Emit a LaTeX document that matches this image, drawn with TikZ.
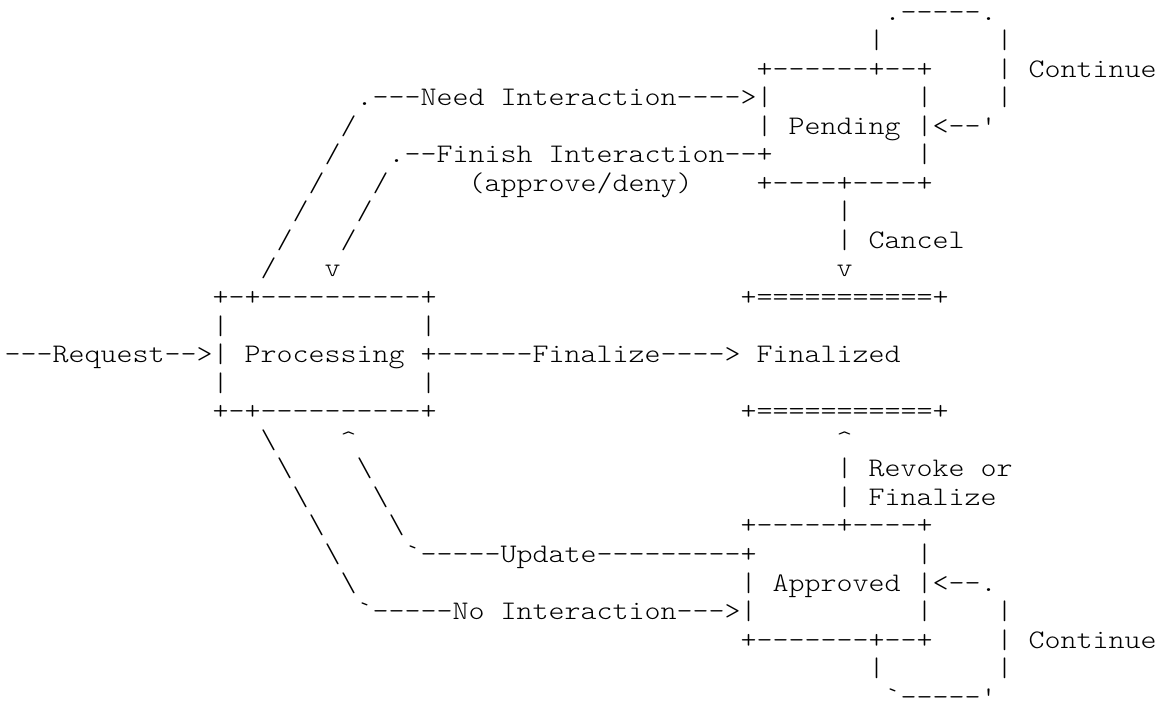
\documentclass[tikz,border=0pt]{standalone}
\usepackage{fontspec}
\newfontfamily\asciifont[FakeStretch=1.1372]{Latin Modern Mono Light}
\tikzset{
  ascii/.style={anchor=base west, inner sep=0pt, outer sep=0pt, text=black,
    font={\asciifont\fontsize{26.8pt}{29pt}\selectfont}}
}
\newcommand\rowtext[4]{\node[ascii] (#1) at ({4.6pt+#2*16.0pt},{-20pt-#3*28.55pt}) {#4};}
\newcommand\bs{\textbackslash}
\begin{document}
\begin{tikzpicture}
\useasboundingbox (0,0) rectangle (1161pt,-715pt);
% row 0-2: Pending self loop
\rowtext{loopTop}{55}{0}{.-----.}
\rowtext{loopL1}{54}{1}{|}
\rowtext{loopR1}{62}{1}{|}
\rowtext{pendTop}{47}{2}{+------+--+}
\rowtext{loopR2}{62}{2}{|}
\rowtext{contTop}{64}{2}{Continue}
% row 3
\rowtext{needInt}{22}{3}{.---Need Interaction---->|}
\rowtext{pendR3}{57}{3}{|}
\rowtext{loopR3}{62}{3}{|}
% row 4
\rowtext{sa4}{21}{4}{/}
\rowtext{pendL4}{47}{4}{|}
\rowtext{pending}{49}{4}{Pending}
\rowtext{pendR4}{57}{4}{|<--'}
% row 5
\rowtext{sa5}{20}{5}{/}
\rowtext{finInt}{24}{5}{.--Finish Interaction--+}
\rowtext{pendR5}{57}{5}{|}
% row 6
\rowtext{sa6}{19}{6}{/}
\rowtext{sb6}{23}{6}{/}
\rowtext{apprDeny}{29}{6}{(approve/deny)}
\rowtext{pendBot}{47}{6}{+----+----+}
% row 7
\rowtext{sa7}{18}{7}{/}
\rowtext{sb7}{22}{7}{/}
\rowtext{canc7}{52}{7}{|}
% row 8
\rowtext{sa8}{17}{8}{/}
\rowtext{sb8}{21}{8}{/}
\rowtext{canc8}{52}{8}{|}
\rowtext{cancel}{54}{8}{Cancel}
% row 9
\rowtext{sa9}{16}{9}{/}
\rowtext{sb9}{20}{9}{v}
\rowtext{canc9}{52}{9}{v}
% row 10-14: Processing and Finalized
\rowtext{procTop}{13}{10}{+-+----------+}
\rowtext{finTop}{46}{10}{+===========+}
\rowtext{procL11}{13}{11}{|}
\rowtext{procR11}{26}{11}{|}
\rowtext{request}{0}{12}{---Request-->|}
\rowtext{processing}{15}{12}{Processing}
\rowtext{finalize}{26}{12}{+------Finalize---->}
\rowtext{finalized}{47}{12}{Finalized}
\rowtext{procL13}{13}{13}{|}
\rowtext{procR13}{26}{13}{|}
\rowtext{procBot}{13}{14}{+-+----------+}
\rowtext{finBot}{46}{14}{+===========+}
% row 15
\rowtext{ba15}{16}{15}{\bs}
\rowtext{bb15}{21}{15}{\textasciicircum}
\rowtext{rev15}{52}{15}{\textasciicircum}
% row 16
\rowtext{ba16}{17}{16}{\bs}
\rowtext{bb16}{22}{16}{\bs}
\rowtext{rev16}{52}{16}{|}
\rowtext{revoke}{54}{16}{Revoke or}
% row 17
\rowtext{ba17}{18}{17}{\bs}
\rowtext{bb17}{23}{17}{\bs}
\rowtext{rev17}{52}{17}{|}
\rowtext{revfin}{54}{17}{Finalize}
% row 18
\rowtext{ba18}{19}{18}{\bs}
\rowtext{bb18}{24}{18}{\bs}
\rowtext{apprTop}{46}{18}{+-----+----+}
% row 19
\rowtext{ba19}{20}{19}{\bs}
\rowtext{update}{25}{19}{`-----Update---------+}
\rowtext{apprR19}{57}{19}{|}
% row 20
\rowtext{ba20}{21}{20}{\bs}
\rowtext{apprL20}{46}{20}{|}
\rowtext{approved}{48}{20}{Approved}
\rowtext{apprR20}{57}{20}{|<--.}
% row 21
\rowtext{noInt}{22}{21}{`-----No Interaction--->|}
\rowtext{apprR21}{57}{21}{|}
\rowtext{loopB21}{62}{21}{|}
% row 22-24: Approved self loop
\rowtext{apprBot}{46}{22}{+-------+--+}
\rowtext{loopB22}{62}{22}{|}
\rowtext{contBot}{64}{22}{Continue}
\rowtext{loopB23a}{54}{23}{|}
\rowtext{loopB23b}{62}{23}{|}
\rowtext{loopBot}{55}{24}{`-----'}
\end{tikzpicture}
\end{document}
